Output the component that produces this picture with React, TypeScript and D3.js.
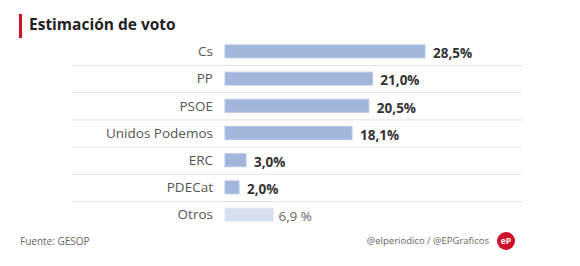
import React from "react";
import * as d3 from "d3";

const parties = ["Cs", "PP", "PSOE", "Unidos Podemos", "ERC", "PDECat", "Otros"];
const values = [28.5, 21.0, 20.5, 18.1, 3.0, 2.0, 6.9];
const valueLabels = ["28,5%", "21,0%", "20,5%", "18,1%", "3,0%", "2,0%", "6,9 %"];
const highlighted = [true, true, true, true, true, true, false];

const W = 580;
const H = 266;
const FONT = "'Open Sans', 'Noto Sans', sans-serif";

export default function App() {
  const x = d3.scaleLinear().domain([0, 28.5]).range([225, 425]);
  const y = d3.scaleBand<string>().domain(parties).range([37.8, 228.2]).padding(0);
  const barH = 13;

  return (
    <svg width={W} height={H} style={{ position: "absolute", left: 0, top: 0, background: "#fff" }}>
      <rect x={19} y={14} width={3} height={24} fill="#d0102a" />
      <text x={29} y={30} fontFamily={FONT} fontWeight={700} fontSize={15.5} fill="#222">
        Estimación de voto
      </text>

      {parties.slice(1).map((p) => (
        <line key={"l" + p} x1={72} x2={522} y1={(y(p) ?? 0) + 0.5} y2={(y(p) ?? 0) + 0.5} stroke="#e3e3e3" strokeWidth={1} />
      ))}

      {parties.map((p, i) => {
        const cy = (y(p) ?? 0) + y.bandwidth() / 2;
        return (
          <g key={p}>
            <text x={213} y={cy} dy="0.35em" textAnchor="end" fontFamily={FONT} fontSize={13.5} fill="#555">
              {p}
            </text>
            <rect
              x={x(0)}
              y={cy - barH / 2}
              width={x(values[i]) - x(0)}
              height={barH}
              fill={highlighted[i] ? "#a2b5da" : "#d6dfee"}
              stroke={highlighted[i] ? "#b7c6e4" : "#e2e8f3"}
              strokeWidth={1}
            />
            <text
              x={x(values[i]) + (highlighted[i] ? 8 : 5)}
              y={cy + 2}
              dy="0.35em"
              fontFamily={FONT}
              fontSize={13.5}
              fontWeight={highlighted[i] ? 700 : 400}
              fill={highlighted[i] ? "#333" : "#666"}
            >
              {valueLabels[i]}
            </text>
          </g>
        );
      })}

      <text x={20} y={241} dy="0.35em" fontFamily={FONT} fontSize={10} fill="#666">
        Fuente: GESOP
      </text>
      <text x={489} y={241} dy="0.35em" textAnchor="end" fontFamily={FONT} fontSize={9.5} fill="#666">
        @elperiodico / @EPGraficos
      </text>
      <circle cx={506} cy={241} r={9} fill="#d0102a" />
      <text x={506} y={241} dy="0.35em" textAnchor="middle" fontFamily={FONT} fontSize={8.5} fontWeight={700} fill="#fff">
        eP
      </text>
    </svg>
  );
}
